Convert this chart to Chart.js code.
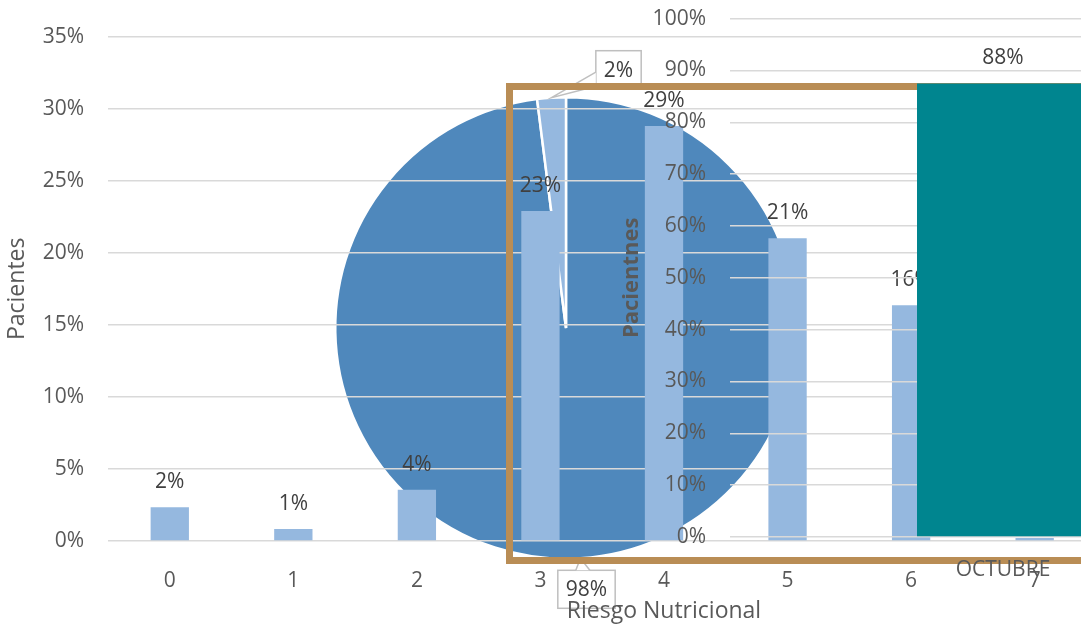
<!DOCTYPE html>
<html>
<head>
<meta charset="utf-8">
<script src="https://cdn.jsdelivr.net/npm/chart.js@4/dist/chart.umd.min.js"></script>
<style>
  html, body { margin: 0; padding: 0; background: #fff; }
  body { width: 1081px; height: 627px; overflow: hidden; position: relative; }
  .capa { position: absolute; }
  #pieWrap { left: 266px; top: 0; z-index: 1; }
  #baseWrap { left: 0; top: 0; z-index: 2; }
  #marco { position: absolute; left: 506px; top: 83px; width: 800px; height: 481px;
           border: 7px solid #B98D55; box-sizing: border-box; z-index: 3; }
  #mesWrap { left: 615px; top: -18px; z-index: 4; }
</style>
</head>
<body>
<div class="capa" id="pieWrap"><canvas id="pieChart" width="600" height="656"></canvas></div>
<div class="capa" id="baseWrap"><canvas id="riesgoChart" width="1240" height="627"></canvas></div>
<div id="marco"></div>
<div class="capa" id="mesWrap"><canvas id="mesChart" width="680" height="618"></canvas></div>

<script>
// Datos
const riesgoLabels = ['0', '1', '2', '3', '4', '5', '6', '7', '8'];
const pacientesPct = [2.35, 0.83, 3.55, 22.9, 28.8, 21.0, 16.35, 0.2, null];

const pieLabels = ['1', '2'];
const pieValues = [98, 2];

const mesLabels = ['OCTUBRE'];
const mesPct = [87.5];

const FONT = '"Open Sans", "Noto Sans", sans-serif';
const GRIS = '#595959';
const GRID = '#D9D9D9';

// Etiquetas encima de cada barra (n%)
const barLabels = {
    id: 'barLabels',
    afterDatasetsDraw(chart) {
        const ctx = chart.ctx;
        const values = chart.data.datasets[0].data;
        chart.getDatasetMeta(0).data.forEach((bar, i) => {
            if (values[i] == null) return;
            ctx.save();
            ctx.font = '21px ' + FONT;
            ctx.fillStyle = '#404040';
            ctx.textAlign = 'center';
            ctx.textBaseline = 'middle';
            ctx.fillText(Math.round(values[i]) + '%', bar.x, bar.y - 25);
            ctx.restore();
        });
    }
};

// Etiquetas tipo globo para el pastel
const calloutOffsets = [{ dx: 6, dy: 31 }, { dx: 67, dy: -28 }];
const pieCallouts = {
    id: 'pieCallouts',
    afterDraw(chart) {
        const ctx = chart.ctx;
        chart.getDatasetMeta(0).data.forEach((arc, i) => {
            const p = arc.getProps(['x', 'y', 'startAngle', 'endAngle', 'outerRadius'], true);
            const mid = (p.startAngle + p.endAngle) / 2;
            const ax = p.x + Math.cos(mid) * p.outerRadius;
            const ay = p.y + Math.sin(mid) * p.outerRadius;
            const text = pieValues[i] + '%';
            ctx.save();
            ctx.font = '21px ' + FONT;
            const w = ctx.measureText(text).width + 16, h = 38;
            const cx = ax + calloutOffsets[i].dx, cy = ay + calloutOffsets[i].dy;
            const bx = cx - w / 2, by = cy - h / 2;
            // punto donde sale la cola
            const dx = ax - cx, dy = ay - cy;
            const t = Math.min((w / 2) / Math.abs(dx || 1e-6), (h / 2) / Math.abs(dy || 1e-6));
            const px = cx + dx * t, py = cy + dy * t;
            const vertical = Math.abs(dx) * (h / 2) > Math.abs(dy) * (w / 2);
            const p1 = vertical ? [px, py - 7] : [px - 7, py];
            const p2 = vertical ? [px, py + 7] : [px + 7, py];

            ctx.fillStyle = '#fff';
            ctx.strokeStyle = '#BFBFBF';
            ctx.lineWidth = 1.5;
            ctx.fillRect(bx, by, w, h);
            ctx.strokeRect(bx, by, w, h);
            ctx.beginPath();
            ctx.moveTo(p1[0], p1[1]);
            ctx.lineTo(ax, ay);
            ctx.lineTo(p2[0], p2[1]);
            ctx.closePath();
            ctx.fill();
            ctx.beginPath();
            ctx.moveTo(p1[0], p1[1]);
            ctx.lineTo(ax, ay);
            ctx.lineTo(p2[0], p2[1]);
            ctx.stroke();

            ctx.fillStyle = '#404040';
            ctx.textAlign = 'center';
            ctx.textBaseline = 'middle';
            ctx.fillText(text, cx, cy + 1);
            ctx.restore();
        });
    }
};

// 1. Pastel (capa de abajo)
new Chart(document.getElementById('pieChart'), {
    type: 'pie',
    data: {
        labels: pieLabels,
        datasets: [{
            data: pieValues,
            backgroundColor: ['#4F88BC', '#95B8DF'],
            borderColor: '#fff',
            borderWidth: 2.5
        }]
    },
    options: {
        responsive: false,
        animation: false,
        devicePixelRatio: 1,
        layout: { padding: 68 },
        plugins: { legend: { display: false }, tooltip: { enabled: false } }
    },
    plugins: [pieCallouts]
});

// 2. Riesgo nutricional
new Chart(document.getElementById('riesgoChart'), {
    type: 'bar',
    data: {
        labels: riesgoLabels,
        datasets: [{
            data: pacientesPct,
            backgroundColor: '#95B8DF',
            borderWidth: 0,
            barPercentage: 0.31,
            categoryPercentage: 1
        }]
    },
    options: {
        responsive: false,
        animation: false,
        devicePixelRatio: 1,
        layout: { padding: { top: 36, right: 20, left: 0, bottom: 0 } },
        plugins: { legend: { display: false }, tooltip: { enabled: false } },
        scales: {
            x: {
                afterFit: (s) => { s.height = 86; },
                grid: { display: false },
                border: { display: false },
                ticks: { color: GRIS, padding: 19, font: { family: FONT, size: 21 } },
                title: { display: true, text: 'Riesgo Nutricional', color: GRIS,
                         padding: { top: 0, bottom: 2 }, font: { family: FONT, size: 23 } }
            },
            y: {
                min: 0, max: 35,
                afterFit: (s) => { s.width = 108; },
                grid: { color: GRID, lineWidth: 1.5, drawTicks: false },
                border: { display: false },
                ticks: { stepSize: 5, color: GRIS, padding: 24, font: { family: FONT, size: 21 },
                         callback: (v) => v + '%' },
                title: { display: true, text: 'Pacientes', color: GRIS,
                         padding: { top: 4, bottom: 0 }, font: { family: FONT, size: 23 } }
            }
        }
    },
    plugins: [barLabels]
});

// 3. Octubre (capa de arriba)
new Chart(document.getElementById('mesChart'), {
    type: 'bar',
    data: {
        labels: mesLabels,
        datasets: [{
            data: mesPct,
            backgroundColor: '#00858F',
            borderWidth: 0,
            barPercentage: 0.315,
            categoryPercentage: 1
        }]
    },
    options: {
        responsive: false,
        animation: false,
        devicePixelRatio: 1,
        layout: { padding: { top: 17, right: 19, left: 0, bottom: 0 } },
        plugins: { legend: { display: false }, tooltip: { enabled: false } },
        scales: {
            x: {
                afterFit: (s) => { s.height = 63; },
                grid: { display: false },
                border: { display: false },
                ticks: { color: GRIS, padding: 12, font: { family: FONT, size: 21 } }
            },
            y: {
                min: 0, max: 100,
                afterFit: (s) => { s.width = 115; },
                grid: { color: GRID, lineWidth: 1.5, drawTicks: false },
                border: { display: false },
                ticks: { stepSize: 10, color: GRIS, padding: 24, font: { family: FONT, size: 21 },
                         callback: (v) => v + '%' },
                title: { display: true, text: 'Pacientnes', color: GRIS,
                         padding: { top: 4, bottom: 0 }, font: { family: FONT, size: 22, weight: 'bold' } }
            }
        }
    },
    plugins: [barLabels]
});
</script>
</body>
</html>
